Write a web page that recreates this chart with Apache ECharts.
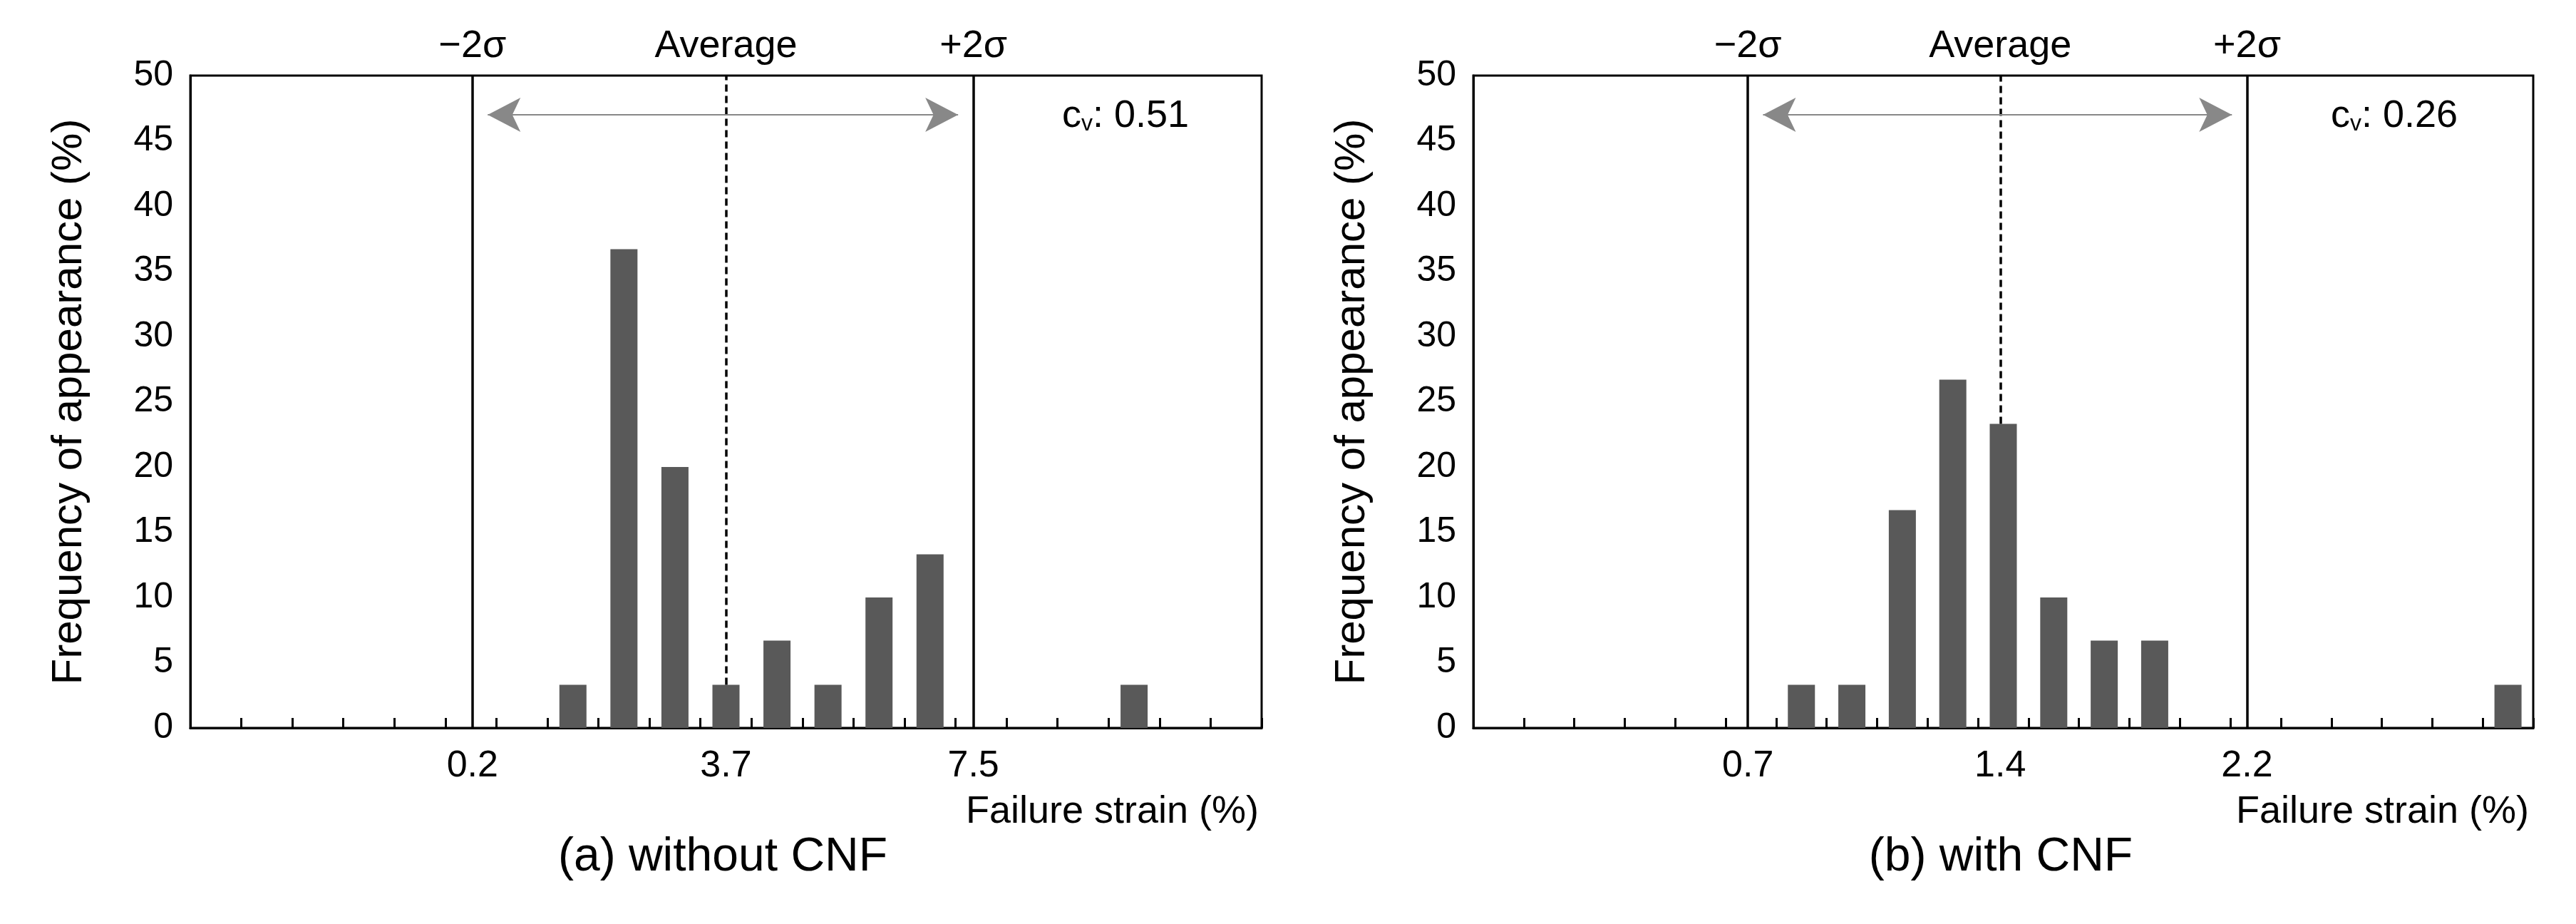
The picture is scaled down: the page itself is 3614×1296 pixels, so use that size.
<!DOCTYPE html>
<html><head><meta charset="utf-8">
<script src="https://cdn.jsdelivr.net/npm/echarts@6/dist/echarts.min.js"></script>
<style>html,body{margin:0;background:#fff}#main{width:3614px;height:1296px}</style>
</head><body><div id="main"></div>
<script>
// bin slots (0..20) and frequencies (%)
const slotsA = [7, 8, 9, 10, 11, 12, 13, 14, 18];
const freqA = [3.3, 36.7, 20, 3.3, 6.7, 3.3, 10, 13.3, 3.3];
const slotsB = [6, 7, 8, 9, 10, 11, 12, 13, 20];
const freqB = [3.3, 3.3, 16.7, 26.7, 23.3, 10, 6.7, 6.7, 3.3];
// marker positions in slot units and their labels
const linesA = [5.53, 10.5, 15.35];
const lineLabelsA = ['0.2', '3.7', '7.5'];
const linesB = [5.44, 10.44, 15.33];
const lineLabelsB = ['0.7', '1.4', '2.2'];
const avgBottomA = 3.3, avgBottomB = 23.3;
const topLabels = ['\u22122\u03c3', 'Average', '+2\u03c3'];
const cvA = '0.51', cvB = '0.26';
const titles = ['(a) without CNF', '(b) with CNF'];

const FONT = "'Liberation Sans Narrow','Liberation Sans',Arial,sans-serif";
const chart = echarts.init(document.getElementById('main'));

const grids = [
  { left: 267, top: 106, width: 1503, height: 915 },
  { left: 2067, top: 106, width: 1487, height: 915 }
];

function xAxis(i) {
  return {
    gridIndex: i, type: 'value', min: 0, max: 21, interval: 1,
    axisLine: { lineStyle: { color: '#000', width: 3 } },
    axisTick: { inside: true, length: 14, lineStyle: { color: '#000', width: 3 } },
    axisLabel: { show: false }, splitLine: { show: false }
  };
}
function yAxis(i) {
  return {
    gridIndex: i, type: 'value', min: 0, max: 50, interval: 5,
    name: 'Frequency of appearance (%)', nameLocation: 'middle', nameGap: 140,
    nameTextStyle: { fontFamily: FONT, fontSize: 60, color: '#000' },
    axisLine: { show: true, lineStyle: { color: '#000', width: 3 } },
    axisTick: { show: false },
    axisLabel: { fontFamily: FONT, fontSize: 50, color: '#000', margin: 24 },
    splitLine: { show: false }
  };
}
function series(i, slots, freq, lines, avgBottom) {
  const mk = lines.map((x, k) => [
    { coord: [x, k === 1 ? avgBottom : 0], lineStyle: { color: '#000', width: 3.5, type: k === 1 ? [10, 6] : 'solid' } },
    { coord: [x, 50] }
  ]);
  return [{
    type: 'bar', xAxisIndex: i, yAxisIndex: i,
    data: slots.map((s, k) => [s + 0.5, freq[k]]),
    barWidth: 38,
    itemStyle: { color: '#595959' },
    markLine: { silent: true, symbol: 'none', label: { show: false }, animation: false, data: mk }
  }, {
    type: 'line', xAxisIndex: i, yAxisIndex: i, data: [],
    markLine: { silent: true, symbol: ['arrow', 'arrow'], symbolSize: [36, 46], label: { show: false }, animation: false,
      lineStyle: { color: '#888', width: 2, type: 'solid' },
      data: [[{ coord: [lines[0] + 0.3, 47] }, { coord: [lines[2] - 0.3, 47] }]] }
  }];
}

const cvStyle = cv => ({ rich: { a: { fontFamily: FONT, fontSize: 54, fill: '#000' }, s: { fontFamily: FONT, fontSize: 32, fill: '#000', padding: [22, 0, 0, 0] } }, text: '{a|c}{s|v}{a|: ' + cv + '}' });

chart.setOption({
  animation: false,
  grid: grids.map(g => Object.assign({ show: true, borderColor: '#000', borderWidth: 3 }, g)),
  xAxis: [xAxis(0), xAxis(1)],
  yAxis: [yAxis(0), yAxis(1)],
  series: [...series(0, slotsA, freqA, linesA, avgBottomA), ...series(1, slotsB, freqB, linesB, avgBottomB)]
});

// texts placed through the axes
const g = [];
[[linesA, lineLabelsA, 0], [linesB, lineLabelsB, 1]].forEach(([lines, labels, i]) => {
  lines.forEach((x, k) => {
    const bottom = chart.convertToPixel({ gridIndex: i }, [x, 0]);
    const top = chart.convertToPixel({ gridIndex: i }, [x, 50]);
    g.push({ type: 'text', x: bottom[0], y: bottom[1] + 28, style: { text: labels[k], fontFamily: FONT, fontSize: 52, fill: '#000', textAlign: 'center', textVerticalAlign: 'top' } });
    g.push({ type: 'text', x: top[0], y: top[1] - 14, style: { text: topLabels[k], fontFamily: FONT, fontSize: 54, fill: '#000', textAlign: 'center', textVerticalAlign: 'bottom' } });
  });
});
g.push({ type: 'text', x: 1490, y: 136, style: cvStyle(cvA) });
g.push({ type: 'text', x: 3270, y: 136, style: cvStyle(cvB) });
g.push({ type: 'text', x: 1766, y: 1112, style: { text: 'Failure strain (%)', fontFamily: FONT, fontSize: 54, fill: '#000', textAlign: 'right' } });
g.push({ type: 'text', x: 3548, y: 1112, style: { text: 'Failure strain (%)', fontFamily: FONT, fontSize: 54, fill: '#000', textAlign: 'right' } });
g.push({ type: 'text', x: 1014, y: 1170, style: { text: titles[0], fontFamily: FONT, fontSize: 66, fill: '#000', textAlign: 'center' } });
g.push({ type: 'text', x: 2807, y: 1170, style: { text: titles[1], fontFamily: FONT, fontSize: 66, fill: '#000', textAlign: 'center' } });
chart.setOption({ graphic: g });
</script></body></html>
